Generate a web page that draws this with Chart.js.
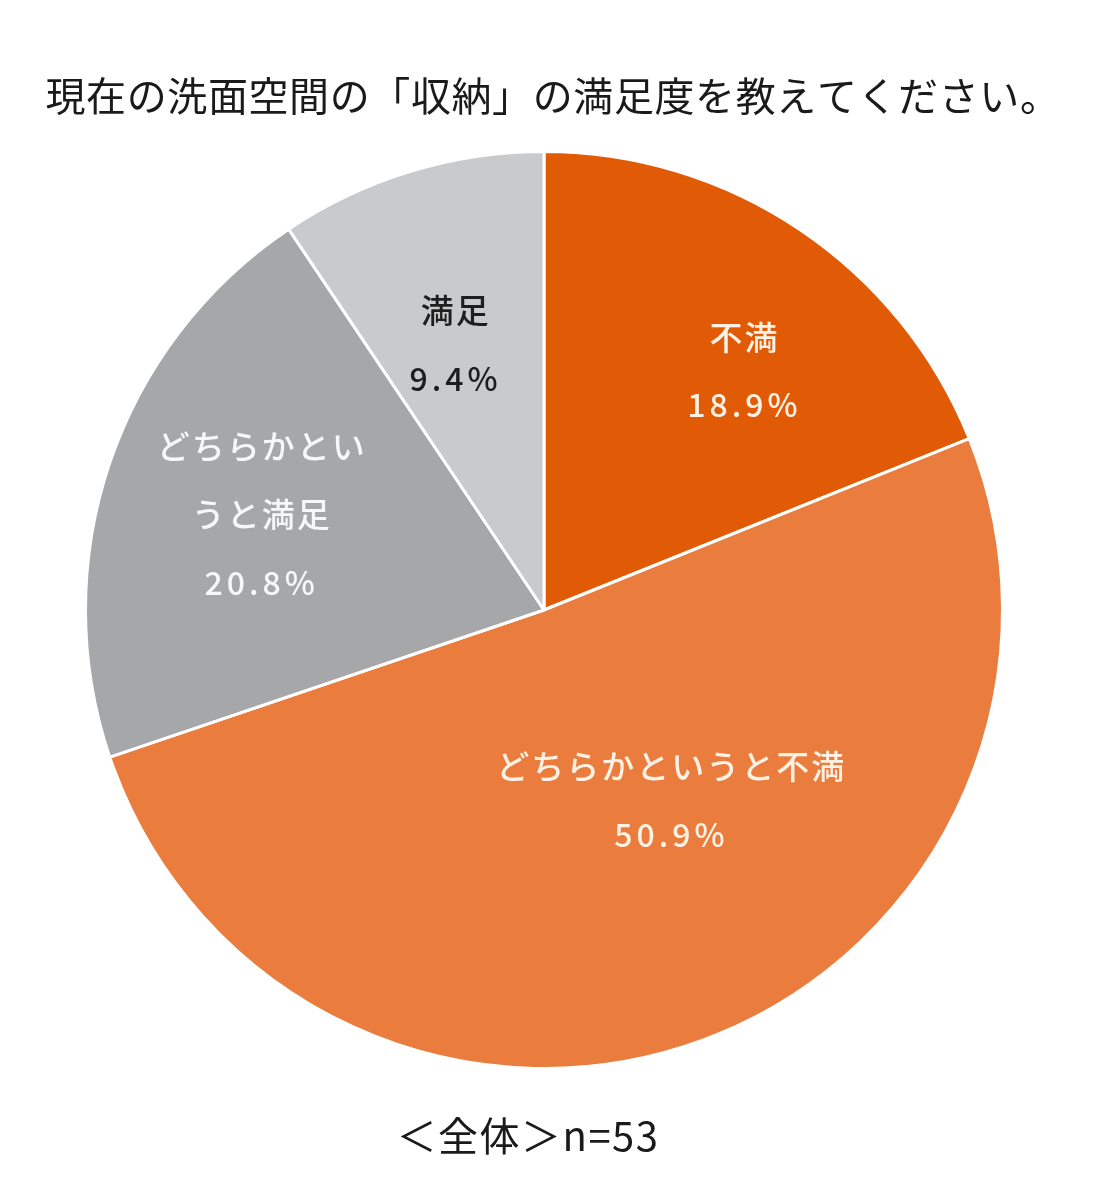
<!DOCTYPE html>
<html>
<head>
<meta charset="utf-8">
<script src="https://cdn.jsdelivr.net/npm/chart.js@4.4.1/dist/chart.umd.min.js"></script>
<style>
  html, body { margin: 0; padding: 0; background: #ffffff; }
  #wrap { width: 1101px; height: 1197px; position: relative; }
</style>
</head>
<body>
<div id="wrap"><canvas id="c"></canvas></div>
<script>
const titleText = '現在の洗面空間の「収納」の満足度を教えてください。';
const footerText = '＜全体＞n=53';
const categories = ['不満', 'どちらかというと不満', 'どちらかというと満足', '満足'];
const values = [18.9, 50.9, 20.8, 9.4];
const sliceColors = ['#E15A05', '#EA7D3D', '#A6A7A9', '#C9CACC'];
const labelColors = ['#FFF1E4', '#FFF1E4', '#F7F7F7', '#1E1E1E'];
const wrapAt = [0, 0, 6, 0];

const fontFamily = '"Noto Sans CJK JP", "Noto Sans", sans-serif';

const textPlugin = {
  id: 'textPlugin',
  afterDraw(chart) {
    const ctx = chart.ctx;
    const meta = chart.getDatasetMeta(0);
    const o = chart.options.plugins.textPlugin;
    ctx.save();
    ctx.textAlign = 'center';
    ctx.textBaseline = 'middle';
    // title
    ctx.fillStyle = '#1A1A1A';
    ctx.font = '40px ' + fontFamily;
    ctx.letterSpacing = '0.6px';
    ctx.fillText(titleText, 553, 96);
    // footer
    ctx.font = '40px ' + fontFamily;
    ctx.letterSpacing = '1.5px';
    ctx.fillText(footerText, 528, 1136);
    // slice labels
    meta.data.forEach((arc, i) => {
      const p = arc.getProps(['x', 'y', 'startAngle', 'endAngle', 'outerRadius'], true);
      const mid = (p.startAngle + p.endAngle) / 2 + o.angleOffset[i] * Math.PI / 180;
      const r = p.outerRadius * o.radiusFrac[i];
      const cx = p.x + Math.cos(mid) * r;
      const cy = p.y + Math.sin(mid) * r;
      const name = categories[i];
      const lines = [];
      if (wrapAt[i] > 0) {
        for (let k = 0; k < name.length; k += wrapAt[i]) lines.push(name.slice(k, k + wrapAt[i]));
      } else {
        lines.push(name);
      }
      lines.push(values[i].toFixed(1) + '%');
      const lh = 68;
      const y0 = cy - (lines.length - 1) * lh / 2;
      ctx.fillStyle = labelColors[i];
      lines.forEach((ln, j) => {
        const isNum = j === lines.length - 1;
        ctx.font = '500 ' + (isNum ? '32px ' : '33px ') + fontFamily;
        ctx.letterSpacing = isNum ? '4px' : '2px';
        ctx.fillText(ln, cx, y0 + j * lh);
      });
    });
    ctx.restore();
  }
};

new Chart(document.getElementById('c'), {
  type: 'pie',
  data: {
    labels: categories,
    datasets: [{
      data: values,
      backgroundColor: sliceColors,
      borderColor: '#FFFFFF',
      borderWidth: 3
    }]
  },
  options: {
    responsive: true,
    maintainAspectRatio: false,
    animation: false,
    layout: { padding: { left: 84, top: 150, right: 97, bottom: 127 } },
    plugins: {
      legend: { display: false },
      tooltip: { enabled: false },
      title: { display: false },
      textPlugin: {
        angleOffset: [6, -13.4, 0, -1.5],
        radiusFrac: [0.68, 0.50, 0.65, 0.61]
      }
    }
  },
  plugins: [textPlugin]
});
</script>
</body>
</html>
